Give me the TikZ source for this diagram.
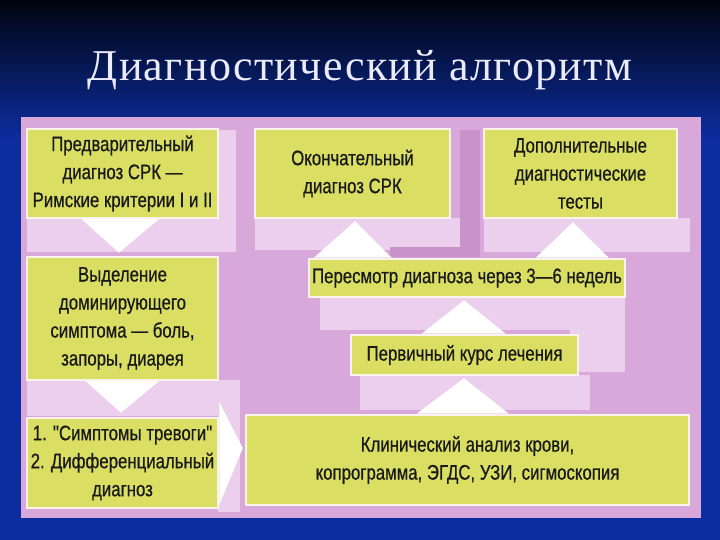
\documentclass[tikz,border=0pt]{standalone}
\usepackage{fontspec}
\newfontfamily\boxfont{Liberation Sans}[FakeStretch=0.8, FakeBold=0.6]
\newfontfamily\titlefont{Liberation Serif}[LetterSpace=3]
\usetikzlibrary{calc}
\definecolor{bgblue}{HTML}{0C2DA0}
\definecolor{bgtop}{HTML}{00040E}
\definecolor{panel}{HTML}{D8A8DA}
\definecolor{lightband}{HTML}{EBCFEC}
\definecolor{darkband}{HTML}{C892CB}
\definecolor{boxfill}{HTML}{DADF63}
\definecolor{boxborder}{HTML}{F8F4EC}
\tikzset{
  boxnode/.style={draw=boxborder, line width=2.5pt, fill=boxfill, align=center,
    inner sep=0pt, text=black!90, font=\boxfont\fontsize{21}{28}\selectfont},
  arrowhead/.style={fill=white},
  lightrect/.style={fill=lightband},
  darkrect/.style={fill=darkband}
}
\begin{document}
\begin{tikzpicture}[x=1pt,y=1pt]
\useasboundingbox (0,0) rectangle (720,540);
% background
\fill[bgblue] (0,0) rectangle (720,540);
\shade[top color=bgtop, bottom color=bgblue] (0,400) rectangle (720,540);
% title
\node[text=white!92!blue, font=\titlefont\fontsize{44}{50}\selectfont] (title) at (360,470) {Диагностический алгоритм};
% panel
\fill[panel] (21,22) rectangle (701,423);
% light and dark bands
\fill[lightrect] (27,288) rectangle (235,322);
\fill[lightrect] (218,288) rectangle (236,410);
\fill[lightrect] (255,290) rectangle (460,322);
\fill[lightrect] (484,288) rectangle (690,322);
\fill[lightrect] (320,210) rectangle (625,243);
\fill[lightrect] (570,168) rectangle (625,210);
\fill[lightrect] (360,130) rectangle (590,165);
\fill[lightrect] (27,124) rectangle (232,160);
\fill[lightrect] (218,28) rectangle (240,160);
\fill[darkrect] (460,285) rectangle (480,410);
\fill[darkrect] (390,283) rectangle (480,293);
% boxes
\node[boxnode, minimum width=191, minimum height=89] (b1) at (122.5,366.5)
  {Предварительный\\диагноз СРК —\\Римские критерии I и II};
\node[boxnode, minimum width=195, minimum height=89] (b2) at (352.5,366.5)
  {Окончательный\\диагноз СРК};
\node[boxnode, minimum width=193, minimum height=89] (b3) at (580.5,366.5)
  {Дополнительные\\диагностические\\тесты};
\node[boxnode, minimum width=191, minimum height=123] (b4) at (122.5,221.5)
  {Выделение\\доминирующего\\симптома — боль,\\запоры, диарея};
\node[boxnode, minimum width=316, minimum height=38] (b5) at (467,262)
  {Пересмотр диагноза через 3—6 недель};
\node[boxnode, minimum width=227, minimum height=40] (b6) at (464.5,185)
  {Первичный курс лечения};
\node[boxnode, minimum width=191, minimum height=90] (b7) at (122.5,77)
  {1. "Симптомы тревоги"\\2. Дифференциальный\\диагноз};
\node[boxnode, minimum width=443, minimum height=90] (b8) at (467.5,80)
  {Клинический анализ крови,\\копрограмма, ЭГДС, УЗИ, сигмоскопия};
% arrowheads
\fill[arrowhead] ($(b1.south west)+(56,0)$) -- ($(b1.south west)+(133,0)$) -- ($(b4.north)+(-3.5,3)$) -- cycle;
\fill[arrowhead] ($(b4.south west)+(60,0)$) -- ($(b4.south west)+(133,0)$) -- ($(b7.north)+(-1.5,4)$) -- cycle;
\fill[arrowhead] ($(b7.east)+(0,61)$) -- ($(b7.east)+(0,-42)$) -- ($(b8.west)+(-2,12)$) -- cycle;
\fill[arrowhead] ($(b8.north west)+(172,0)$) -- ($(b8.north west)+(264,0)$) -- ($(b6.south)+(-0.5,-2)$) -- cycle;
\fill[arrowhead] ($(b6.north west)+(72,0)$) -- ($(b6.north west)+(156,0)$) -- ($(b5.south)+(-3,-2)$) -- cycle;
\fill[arrowhead] ($(b5.north west)+(6,0)$) -- ($(b5.north west)+(84,0)$) -- ($(b2.south)+(2.5,-2)$) -- cycle;
\fill[arrowhead] ($(b5.north west)+(228,0)$) -- ($(b5.north west)+(301,0)$) -- ($(b3.south)+(-7.5,-3)$) -- cycle;
\end{tikzpicture}
\end{document}
